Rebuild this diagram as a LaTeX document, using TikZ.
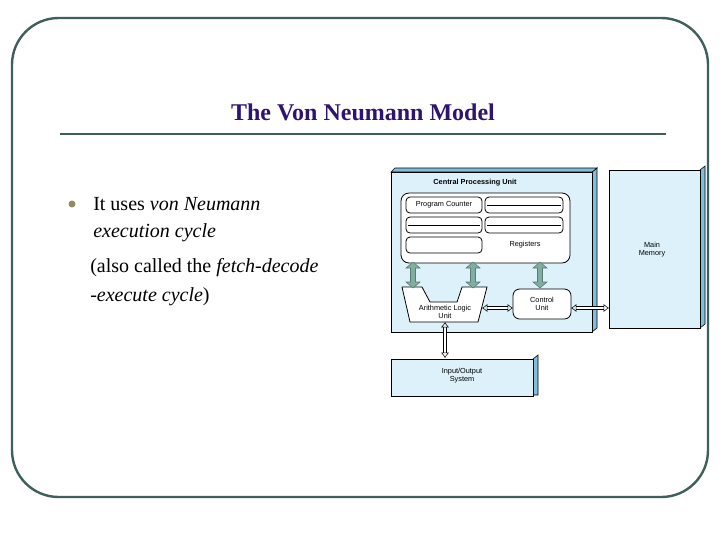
\documentclass[tikz,border=0pt]{standalone}
\usepackage{fontspec}
\setmainfont{Liberation Serif}
\setsansfont{Liberation Sans}
\usetikzlibrary{arrows.meta}
\definecolor{frame}{HTML}{3F5F5A}
\definecolor{titlec}{HTML}{2E1470}
\definecolor{boxfill}{HTML}{DDF1FA}
\definecolor{side}{HTML}{7FBFDA}
\definecolor{grn}{HTML}{7FAFA0}
\begin{document}
\begin{tikzpicture}[x=0.75pt,y=-0.75pt,
 unitbox/.style={draw=black,fill=boxfill,line width=0.5pt},
 sidebox/.style={draw=black,fill=side,line width=0.4pt},
 reg/.style={draw=black,fill=white,rounded corners=3pt,line width=0.6pt},
 lbl/.style={font=\sffamily\fontsize{5.5}{6}\selectfont,align=center,inner sep=0pt},
 body/.style={font=\fontsize{15}{18}\selectfont,anchor=west,inner sep=0pt},
 garrow/.style={draw=grn!70!black,fill=grn,line width=0.4pt},
 warrow/.style={double=white,draw=black,double distance=2pt,line width=0.4pt,{Latex[open,length=4pt,width=6pt]}-{Latex[open,length=4pt,width=6pt]}}]
\useasboundingbox (0,0) rectangle (720,540);
\fill[white] (0,0) rectangle (720,540);
\draw[frame,line width=1.8pt,rounded corners=35pt] (12,18) rectangle (708,497);
\node[font=\bfseries\fontsize{18}{20}\selectfont,text=titlec] (title) at (363,112) {The Von Neumann Model};
\draw[frame,line width=1.6pt] (60,134) -- (666,134);
\fill[gray!70!olive] (72,204) circle (3.5);
\node[body] (l1) at (93,204) {It uses \textit{von Neumann}};
\node[body] (l2) at (93,233) {\textit{execution cycle}};
\node[body] (l3) at (90,268) {(also called the \textit{fetch-decode}};
\node[body] (l4) at (90,297) {\textit{-execute cycle})};
% CPU
\draw[sidebox] (592,172) -- (597,168) -- (597,328) -- (592,332) -- cycle;
\draw[sidebox] (391,172) -- (395,168) -- (597,168) -- (592,172) -- cycle;
\draw[unitbox] (391,172) rectangle (592,332);
\node[lbl,font=\sffamily\bfseries\fontsize{5.5}{6}\selectfont] (cpu) at (475,183) {Central Processing Unit};
% memory
\draw[sidebox] (700,170) -- (705,166) -- (705,324) -- (700,328) -- cycle;
\draw[unitbox] (609,170) rectangle (700,328);
\node[lbl] (mm) at (652,250) {Main\\Memory};
% IO
\draw[sidebox] (533,359) -- (538,355) -- (538,395) -- (533,395) -- cycle;
\draw[unitbox] (391,359) rectangle (533,396);
\node[lbl] (io) at (462,376) {Input/Output\\System};
% registers
\draw[reg,rounded corners=6pt] (401,193) rectangle (570,263);
\draw[reg] (406,197) rectangle (482,213);
\node[lbl] (pc) at (444,205) {Program Counter};
\draw[reg] (485,197) rectangle (563,213);
\draw[black,line width=0.5pt] (487,205) -- (561,205);
\draw[reg] (406,217) rectangle (482,233);
\draw[black,line width=0.5pt] (408,225) -- (480,225);
\draw[reg] (485,217) rectangle (563,233);
\draw[black,line width=0.5pt] (487,225) -- (561,225);
\draw[reg] (406,237) rectangle (482,253);
\node[lbl] (regs) at (525,245) {Registers};
% ALU
\draw[fill=white,line width=0.6pt] (402,287) -- (422,287) -- (430,302) -- (457,302) -- (462,287) -- (487,287) -- (478,322) -- (410,322) -- cycle;
\node[lbl] (alu) at (445,312) {Arithmetic Logic\\Unit};
\draw[reg,rounded corners=5pt] (513,289) rectangle (571,319);
\node[lbl] (cu) at (542,304) {Control\\Unit};
% green arrows
\foreach \x in {413,473,540}{
 \draw[garrow] (\x-2.5,268) -- (\x-7,268) -- (\x,262) -- (\x+7,268) -- (\x+2.5,268) -- (\x+2.5,282) -- (\x+7,282) -- (\x,288) -- (\x-7,282) -- (\x-2.5,282) -- cycle;
}
% white arrows
\coordinate (a1) at (482,308); \coordinate (a2) at (513,308);
\draw[warrow] (a1) -- (a2);
\coordinate (b1) at (571,308); \coordinate (b2) at (609,308);
\draw[warrow] (b1) -- (b2);
\coordinate (c1) at (445,322); \coordinate (c2) at (445,358);
\draw[warrow] (c1) -- (c2);
\end{tikzpicture}
\end{document}
